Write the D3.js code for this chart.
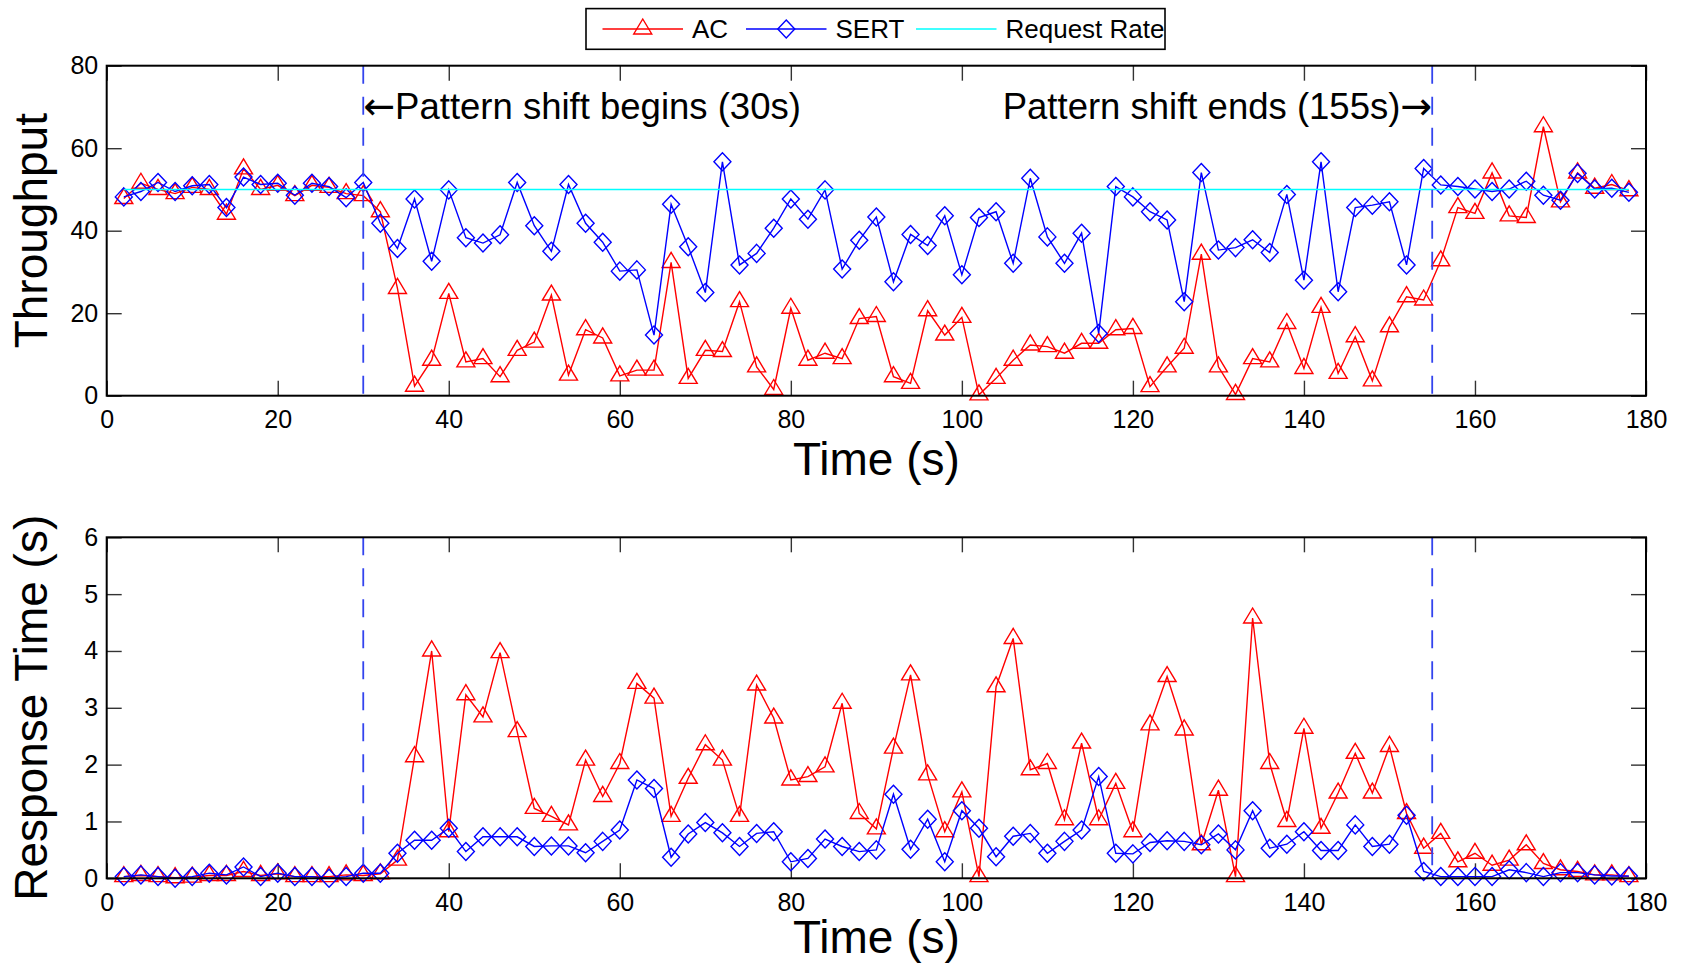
<!DOCTYPE html>
<html>
<head>
<meta charset="utf-8">
<script src="https://cdn.jsdelivr.net/npm/d3@7"></script>
<style>
  html, body { margin: 0; padding: 0; background: #fff; }
  svg { display: block; }
  text { font-family: "Liberation Sans", Arial, Helvetica, sans-serif; }
</style>
</head>
<body>
<svg id="chart" width="1681" height="966"></svg>
<script>
// ---- data -------------------------------------------------------------
const time = [
  2, 4, 6, 8, 10, 12, 14, 16, 18, 20, 22, 24, 26, 28, 30, 32, 34, 36, 38, 40,
  42, 44, 46, 48, 50, 52, 54, 56, 58, 60, 62, 64, 66, 68, 70, 72, 74, 76, 78, 80,
  82, 84, 86, 88, 90, 92, 94, 96, 98, 100, 102, 104, 106, 108, 110, 112, 114, 116, 118, 120,
  122, 124, 126, 128, 130, 132, 134, 136, 138, 140, 142, 144, 146, 148, 150, 152, 154, 156, 158, 160,
  162, 164, 166, 168, 170, 172, 174, 176, 178
];

const acThroughput = [
  47.8, 51.5, 50, 49, 50.5, 50, 44, 55, 50, 51, 48.5, 51, 50.5, 49, 48.5, 44.6, 26, 2.3, 8.6, 24.8,
  8.2, 9, 4.6, 11, 13, 24.4, 5, 16, 14, 4.8, 6.2, 6.2, 32.3, 4.2, 11, 10.7, 22.8, 7, 1.5, 21.2,
  8.6, 10.3, 9, 18.7, 19.2, 4.6, 3, 20.6, 14.7, 19, 0.2, 4.2, 8.6, 12.3, 11.9, 10.3, 12.7, 12.7, 16, 16.3,
  2.2, 7, 11.5, 34.3, 7, 0.3, 9, 8.2, 17.5, 6.6, 21.4, 5.4, 14.3, 3.6, 16.7, 24, 23.2, 32.7, 45.6, 44.2,
  54, 43.6, 43.2, 65.2, 47, 54, 50.3, 51.2, 49.7
];

const sertThroughput = [
  48.2, 49.5, 51.7, 49.5, 50.9, 51.2, 45.6, 53, 51.2, 51.5, 48.6, 51.5, 50.7, 48, 51.7, 41.8, 35.7, 47.7, 32.6, 49.9,
  38.3, 37, 39, 51.7, 41.2, 35, 51.2, 41.8, 37.2, 30.2, 30.5, 14.7, 46.4, 36.1, 25, 56.7, 31.7, 34.5, 40.6, 47.7,
  42.8, 49.9, 30.7, 37.7, 43.3, 27.6, 39.1, 36.4, 43.6, 29.3, 43.2, 44.6, 32.1, 52.7, 38.5, 32.1, 39.4, 15.1, 50.7, 48.2,
  44.6, 42.6, 22.8, 54.1, 35.3, 35.9, 37.8, 34.7, 48.8, 28, 56.7, 25.2, 45.6, 46.2, 47, 31.7, 55.1, 51.1, 50.7, 50.1,
  49.5, 50.1, 52, 48.6, 47.4, 53.9, 50.1, 50.3, 49.3
];

const requestRateTime = [2, 178];
const requestRate = [50, 50];

const acResponse = [
  0.03, 0.05, 0.03, 0.01, 0.02, 0.05, 0.05, 0.12, 0.05, 0.08, 0.03, 0.03, 0.03, 0.06, 0.05, 0.08, 0.32, 2.14, 4.0, 0.82,
  3.23, 2.84, 3.97, 2.58, 1.23, 1.09, 0.94, 2.08, 1.44, 2.02, 3.43, 3.17, 1.09, 1.76, 2.35, 2.08, 1.09, 3.4, 2.82, 1.73,
  1.79, 1.96, 3.08, 1.14, 0.87, 2.29, 3.58, 1.82, 0.82, 1.52, 0.03, 3.37, 4.22, 1.91, 2.02, 1.03, 2.38, 1.03, 1.67, 0.82,
  2.7, 3.55, 2.61, 0.59, 1.55, 0.03, 4.58, 2.02, 1.0, 2.64, 0.88, 1.5, 2.2, 1.5, 2.32, 1.14, 0.53, 0.79, 0.29, 0.44,
  0.23, 0.32, 0.59, 0.26, 0.15, 0.12, 0.06, 0.06, 0.03
];

const sertResponse = [
  0.03, 0.06, 0.03, 0.0, 0.03, 0.09, 0.06, 0.2, 0.03, 0.09, 0.03, 0.03, 0.0, 0.03, 0.09, 0.09, 0.44, 0.67, 0.67, 0.88,
  0.47, 0.73, 0.73, 0.73, 0.56, 0.57, 0.57, 0.45, 0.65, 0.85, 1.73, 1.58, 0.37, 0.78, 0.98, 0.8, 0.56, 0.79, 0.82, 0.29,
  0.35, 0.69, 0.56, 0.47, 0.5, 1.48, 0.51, 1.04, 0.29, 1.19, 0.88, 0.38, 0.74, 0.79, 0.44, 0.65, 0.85, 1.79, 0.44, 0.43,
  0.63, 0.66, 0.65, 0.59, 0.78, 0.5, 1.19, 0.53, 0.6, 0.82, 0.49, 0.49, 0.94, 0.56, 0.6, 1.11, 0.12, 0.03, 0.03, 0.03,
  0.03, 0.15, 0.1, 0.03, 0.1, 0.1, 0.06, 0.04, 0.04
];

const timeTicks = [0, 20, 40, 60, 80, 100, 120, 140, 160, 180];
const throughputTicks = [0, 20, 40, 60, 80];
const responseTicks = [0, 1, 2, 3, 4, 5, 6];
const shiftBegin = 30;
const shiftEnd = 155;
const seriesNames = ["AC", "SERT", "Request Rate"];

// ---- layout & styles ---------------------------------------------------
const FONT = '"Liberation Sans", Arial, Helvetica, sans-serif';
const ARROW_FONT = '"DejaVu Sans", sans-serif';
const RED = "#ff0000", BLUE = "#0000ff", CYAN = "#00ffff";
const DASH_BLUE = "#3344ee";
const TRIANGLE = "M0,-10L9,5L-9,5Z";
const DIAMOND = "M0,-9L8.5,0L0,9L-8.5,0Z";

const svg = d3.select("#chart");
const plotLeft = 106.7, plotRight = 1646;

const x = d3.scaleLinear().domain([0, 180]).range([plotLeft, plotRight]);

function zip(xs, ys) { return xs.map((t, i) => [t, ys[i]]); }

function drawPanel(cfg) {
  const { top, bottom, domain, ticks, yLabel, series, annotate, titleOffset } = cfg;
  const y = d3.scaleLinear().domain(domain).range([bottom, top]);
  const g = svg.append("g");

  const styleAxis = sel => {
    sel.select(".domain").remove();
    sel.selectAll(".tick line").attr("stroke", "#333").attr("stroke-width", 1.4);
    sel.selectAll(".tick text")
      .attr("font-family", FONT).attr("font-size", 25).attr("fill", "#000");
    sel.attr("font-family", null).attr("font-size", null);
  };
  const plain = d => String(d);

  // axes with inward ticks on all four sides
  g.append("g").attr("transform", `translate(0,${bottom})`)
    .call(d3.axisBottom(x).tickValues(timeTicks).tickFormat(plain)
      .tickSize(-15).tickSizeOuter(0).tickPadding(14.5))
    .call(styleAxis);
  g.append("g").attr("transform", `translate(0,${top})`)
    .call(d3.axisTop(x).tickValues(timeTicks).tickSize(-15).tickSizeOuter(0).tickFormat(""))
    .call(styleAxis);
  g.append("g").attr("transform", `translate(${plotLeft},0)`)
    .call(d3.axisLeft(y).tickValues(ticks).tickFormat(plain)
      .tickSize(-15).tickSizeOuter(0).tickPadding(8.5))
    .call(styleAxis);
  g.append("g").attr("transform", `translate(${plotRight},0)`)
    .call(d3.axisRight(y).tickValues(ticks).tickSize(-15).tickSizeOuter(0).tickFormat(""))
    .call(styleAxis);

  // series
  const line = d3.line().x(d => x(d[0])).y(d => y(d[1]));
  series.forEach(s => {
    const pts = zip(s.t, s.v);
    g.append("path").datum(pts)
      .attr("d", line).attr("fill", "none")
      .attr("stroke", s.color).attr("stroke-width", 1.4);
    if (s.marker) {
      g.append("g").selectAll("path").data(pts).join("path")
        .attr("d", s.marker)
        .attr("transform", d => `translate(${x(d[0])},${y(d[1])})`)
        .attr("fill", "none").attr("stroke", s.color).attr("stroke-width", 1.4);
    }
  });

  // pattern shift boundaries
  [shiftBegin, shiftEnd].forEach(t => {
    g.append("line")
      .attr("x1", x(t)).attr("x2", x(t))
      .attr("y1", top).attr("y2", bottom)
      .attr("stroke", DASH_BLUE).attr("stroke-width", 1.8)
      .attr("stroke-dasharray", "18,13");
  });

  if (annotate) {
    const a1 = g.append("text")
      .attr("x", x(shiftBegin)).attr("y", top + 53.5)
      .attr("font-size", 36.5).attr("fill", "#000");
    a1.append("tspan").attr("font-family", ARROW_FONT).attr("font-size", 38).text("\u2190");
    a1.append("tspan").text(`Pattern shift begins (${shiftBegin}s)`);

    const a2 = g.append("text")
      .attr("x", x(shiftEnd)).attr("y", top + 53.5)
      .attr("text-anchor", "end")
      .attr("font-size", 36.5).attr("fill", "#000");
    a2.append("tspan").text(`Pattern shift ends (${shiftEnd}s)`);
    a2.append("tspan").attr("font-family", ARROW_FONT).attr("font-size", 38).text("\u2192");
  }

  // frame
  g.append("rect")
    .attr("x", plotLeft).attr("y", top)
    .attr("width", plotRight - plotLeft).attr("height", bottom - top)
    .attr("fill", "none").attr("stroke", "#000").attr("stroke-width", 2);

  // axis titles
  g.append("text")
    .attr("x", (plotLeft + plotRight) / 2).attr("y", bottom + titleOffset)
    .attr("text-anchor", "middle").attr("font-size", 46).attr("fill", "#000")
    .text("Time (s)");
  g.append("text")
    .attr("transform", `translate(46.7,${(top + bottom) / 2}) rotate(-90)`)
    .attr("text-anchor", "middle").attr("font-size", 46).attr("fill", "#000")
    .text(yLabel);
}

drawPanel({
  top: 65.7, bottom: 395.7, domain: [0, 80], ticks: throughputTicks,
  yLabel: "Throughput", annotate: true, titleOffset: 79.3,
  series: [
    { t: time, v: acThroughput, color: RED, marker: TRIANGLE },
    { t: time, v: sertThroughput, color: BLUE, marker: DIAMOND },
    { t: requestRateTime, v: requestRate, color: CYAN, marker: null }
  ]
});

drawPanel({
  top: 537.3, bottom: 878.3, domain: [0, 6], ticks: responseTicks,
  yLabel: "Response Time (s)", annotate: false, titleOffset: 75,
  series: [
    { t: time, v: acResponse, color: RED, marker: TRIANGLE },
    { t: time, v: sertResponse, color: BLUE, marker: DIAMOND }
  ]
});

// ---- legend ------------------------------------------------------------
const legend = svg.append("g");
legend.append("rect")
  .attr("x", 586).attr("y", 8.6).attr("width", 579).attr("height", 40.7)
  .attr("fill", "#fff").attr("stroke", "#000").attr("stroke-width", 1.6);
const legendItems = [
  { name: seriesNames[0], color: RED, marker: TRIANGLE, x0: 602.5 },
  { name: seriesNames[1], color: BLUE, marker: DIAMOND, x0: 746 },
  { name: seriesNames[2], color: CYAN, marker: null, x0: 916 }
];
const legendY = 29;
legendItems.forEach(it => {
  legend.append("line")
    .attr("x1", it.x0).attr("x2", it.x0 + 80.5)
    .attr("y1", legendY).attr("y2", legendY)
    .attr("stroke", it.color).attr("stroke-width", 1.4);
  if (it.marker) {
    legend.append("path").attr("d", it.marker)
      .attr("transform", `translate(${it.x0 + 40.25},${legendY})`)
      .attr("fill", "none").attr("stroke", it.color).attr("stroke-width", 1.4);
  }
  legend.append("text")
    .attr("x", it.x0 + 89.5).attr("y", legendY)
    .attr("dy", "0.35em").attr("font-size", 26).attr("fill", "#000")
    .text(it.name);
});
</script>
</body>
</html>
